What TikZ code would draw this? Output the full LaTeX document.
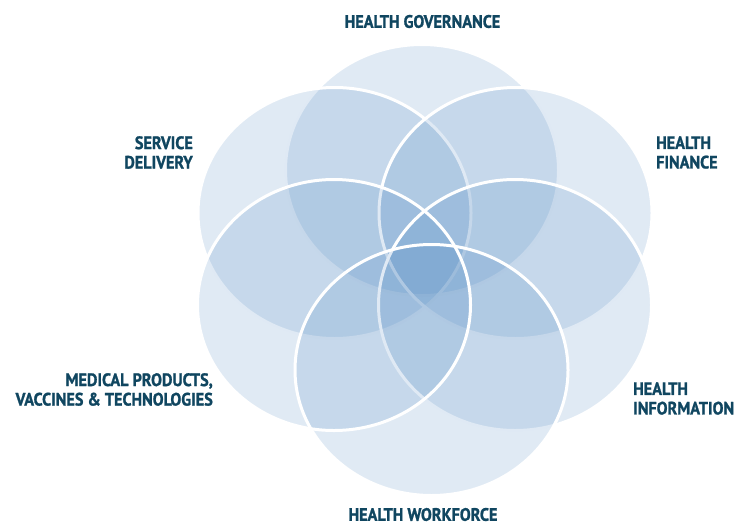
\documentclass[tikz,border=0pt]{standalone}
\usepackage{fontspec}
\newfontfamily\labelfont[FakeStretch=0.9,BoldFeatures={FakeBold=1.2}]{PT Sans}
\usetikzlibrary {positioning}

\definecolor{petalblue}{RGB}{70,130,190}
\definecolor{labelteal}{RGB}{16,70,96}

\begin{document}
\begin{tikzpicture}[x=1pt,y=-1pt,
	petal/.style={fill=petalblue,fill opacity=0.17},
	rim/.style={draw=white,line width=3pt},
	label/.style={font=\labelfont\bfseries\fontsize{18}{19.5}\selectfont,text=labelteal,inner sep=0pt}]
	\useasboundingbox (0,0) rectangle (735,525);
	\def\rx{136.5}
	\def\ry{125.5}
	\coordinate (gov) at (422,170);
	\coordinate (serv) at (334.5,213);
	\coordinate (fin) at (515.5,213);
	\coordinate (med) at (334,305);
	\coordinate (info) at (515,305);
	\coordinate (work) at (431.5,370);
	% petals, drawn in this order for the white rims
	\fill[petal] (gov) ellipse [x radius=\rx, y radius=\ry];
	\draw[rim] (gov) ellipse [x radius=\rx, y radius=\ry];
	\fill[petal] (serv) ellipse [x radius=\rx, y radius=\ry];
	\draw[rim] (serv) ellipse [x radius=\rx, y radius=\ry];
	\fill[petal] (fin) ellipse [x radius=\rx, y radius=\ry];
	\draw[rim] (fin) ellipse [x radius=\rx, y radius=\ry];
	\fill[petal] (med) ellipse [x radius=\rx, y radius=\ry];
	\fill[petal] (info) ellipse [x radius=\rx, y radius=\ry];
	\draw[rim] (info) ellipse [x radius=\rx, y radius=\ry];
	\fill[petal] (work) ellipse [x radius=\rx, y radius=\ry];
	\draw[rim] (med) ellipse [x radius=\rx, y radius=\ry];
	\draw[rim] (work) ellipse [x radius=\rx, y radius=\ry];
	% labels
	\node[label] (govlabel) at (422.5,21.5) {HEALTH GOVERNANCE};
	\node[label,anchor=east,align=right] (servlabel) at (193,152.5) {SERVICE\\DELIVERY};
	\node[label,anchor=west,align=left] (finlabel) at (656,152.5) {HEALTH\\FINANCE};
	\node[label,anchor=east,align=right] (medlabel) at (213,389.5) {MEDICAL PRODUCTS,\\VACCINES \& TECHNOLOGIES};
	\node[label,anchor=west,align=left] (infolabel) at (633,398.5) {HEALTH\\INFORMATION};
	\node[label] (worklabel) at (423,514.5) {HEALTH WORKFORCE};
\end{tikzpicture}
\end{document}
